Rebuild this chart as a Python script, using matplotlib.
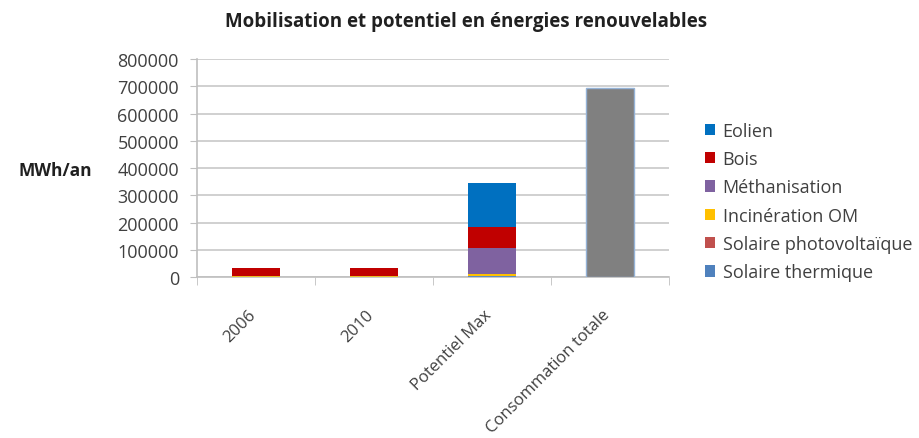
import numpy as np
import matplotlib.pyplot as plt
from matplotlib.ticker import MultipleLocator, FixedLocator
import matplotlib.transforms as mtransforms

# categories and series (MWh/an)
categories = ["2006", "2010", "Potentiel Max", "Consommation totale"]
series_names = ["Solaire thermique", "Solaire photovoltaïque",
                "Incinération OM", "Méthanisation", "Bois", "Eolien"]
solaire_thermique = [300, 500, 2000, 0]
solaire_pv = [100, 300, 1500, 0]
incineration_om = [3000, 3000, 8000, 0]
methanisation = [0, 0, 93500, 0]
bois = [30000, 30000, 80000, 0]
eolien = [0, 0, 160000, 0]
consommation = [0, 0, 0, 695000]

colors = ["#4F81BD", "#C0504D", "#FFC000", "#7F62A0", "#C00000", "#0070C0"]

plt.rcParams['font.family'] = ['Open Sans', 'DejaVu Sans']

fig = plt.figure(figsize=(9.19, 4.39), dpi=100)
ax = fig.add_axes([0.2144, 0.3667, 0.5136, 0.4966])

x = np.arange(len(categories))
width = 0.4
bottom = np.zeros(len(categories))
handles = []
for name, vals, col in zip(series_names,
                           [solaire_thermique, solaire_pv, incineration_om,
                            methanisation, bois, eolien], colors):
    b = ax.bar(x, vals, width, bottom=bottom, color=col, label=name, zorder=3)
    bottom += np.array(vals)
    handles.append(b)
ax.bar(x, consommation, width, color="#808080", edgecolor="#95B3D7",
       linewidth=1, zorder=3)

ax.set_xlim(-0.5, len(categories) - 0.5)
ax.set_ylim(0, 800000)
ax.yaxis.set_major_locator(MultipleLocator(100000))
ax.yaxis.grid(True, color="#C8C8C8", linewidth=1.2, zorder=0)

for s in ["top", "right"]:
    ax.spines[s].set_visible(False)
ax.spines["left"].set_color("#BFBFBF")
ax.spines["bottom"].set_color("#BFBFBF")
ax.spines["left"].set_linewidth(1.2)
ax.spines["bottom"].set_linewidth(1.2)

ax.tick_params(axis="y", length=5, color="#BFBFBF", labelsize=13,
               labelcolor="#404040", pad=8)
ax.set_xticks(x)
ax.set_xticklabels(categories)
ax.xaxis.set_minor_locator(FixedLocator(np.arange(-0.5, len(categories), 1)))
ax.tick_params(axis="x", which="major", length=0, labelsize=12,
               labelcolor="#404040", pad=21)
ax.tick_params(axis="x", which="minor", length=6, color="#BFBFBF")
offset = mtransforms.ScaledTranslation(-0.08, 0, fig.dpi_scale_trans)
for lab in ax.get_xticklabels():
    lab.set_rotation(45)
    lab.set_ha("right")
    lab.set_va("top")
    lab.set_rotation_mode("anchor")
    lab.set_transform(lab.get_transform() + offset)

fig.text(0.507, 0.95, "Mobilisation et potentiel en énergies renouvelables",
         ha="center", va="center", fontsize=13.5, fontweight="bold",
         color="#202020")
fig.text(0.06, 0.61, "MWh/an", ha="center", va="center", fontsize=12.5,
         fontweight="bold", color="#202020")

leg = ax.legend(handles[::-1], series_names[::-1], loc="upper left",
                bbox_to_anchor=(1.06, 0.745), frameon=False, fontsize=13,
                handlelength=0.6, handleheight=0.6, handletextpad=0.4,
                labelspacing=0.57, borderaxespad=0)
for t in leg.get_texts():
    t.set_color("#404040")

fig.savefig("out.png", dpi=100)
